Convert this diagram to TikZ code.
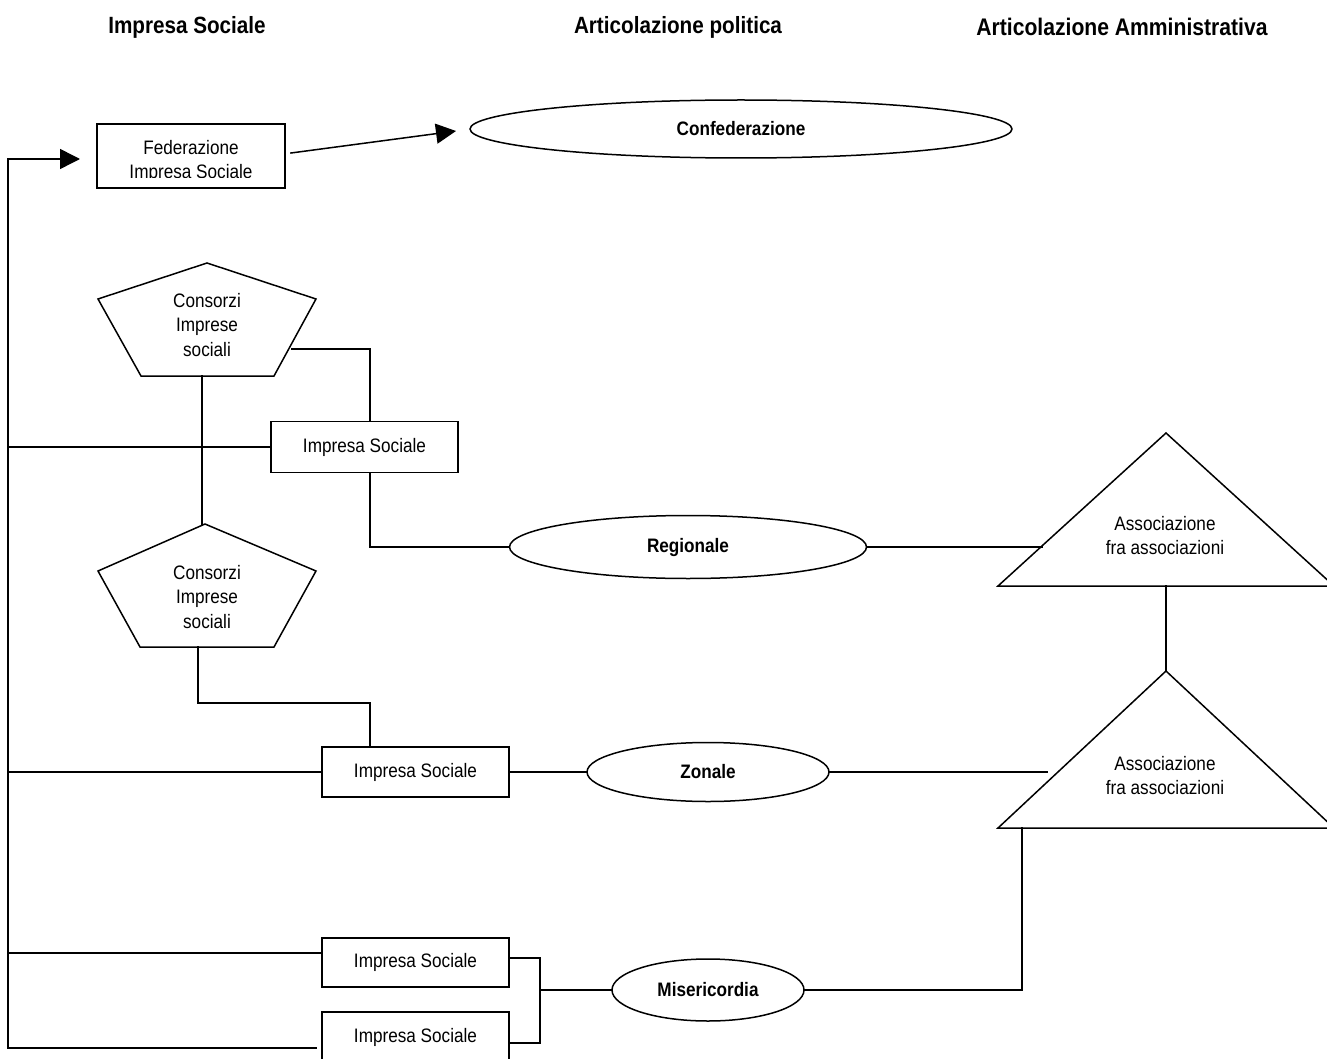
\documentclass[tikz,border=0pt]{standalone}
\usepackage{fontspec}
\setmainfont{Liberation Sans}[FakeStretch=0.88]
\usetikzlibrary{shapes.geometric,arrows.meta}
\tikzset{
  ln/.style={line width=1.5pt, line cap=rect},
  box/.style={draw, line width=1.5pt, rectangle, minimum width=187pt, minimum height=50pt, inner sep=0pt, font=\fontsize{19.5}{24}\selectfont},
  ell/.style={draw, line width=1.5pt, ellipse, inner sep=0pt, font=\bfseries\fontsize{19.5}{24}\selectfont},
  lbl/.style={align=center, inner sep=0pt, font=\fontsize{19.5}{24.5}\selectfont},
  head/.style={inner sep=0pt, font=\bfseries\fontsize{23.5}{28}\selectfont},
  shp/.style={draw, line width=1.5pt, line join=miter},
  arr/.style={ln, -{Triangle[length=20pt,width=20pt]}}
}
\begin{document}
\begin{tikzpicture}[x=1pt,y=-1pt]
\useasboundingbox (0,0) rectangle (1327,1059);
\clip (0,0) rectangle (1327,1059);
\fill[white] (0,0) rectangle (1327,1059);

% headers
\node[head] (h1) at (187,27) {Impresa Sociale};
\node[head] (h2) at (678,27) {Articolazione politica};
\node[head, font=\bfseries\fontsize{24}{28}\selectfont] (h3) at (1122,27) {Articolazione Amministrativa};

% Federazione box with clipped text
\node[box, minimum width=188pt, minimum height=64pt] (fed) at (191,156) {};
\begin{scope}
  \clip (97,124) rectangle (285,178);
  \node[lbl, font=\fontsize{19.5}{24}\selectfont] (fedt) at (191,161) {Federazione\\Impresa Sociale};
\end{scope}

% ellipses
\node[ell, minimum width=542pt, minimum height=58pt] (conf) at (741,129) {Confederazione};
\node[ell, minimum width=357pt, minimum height=63pt] (reg) at (688,547) {Regionale};
\node[ell, minimum width=242pt, minimum height=59pt] (zon) at (708,772) {Zonale};
\node[ell, minimum width=192pt, minimum height=62pt] (mis) at (708,990) {Misericordia};

% boxes
\node[box, minimum height=51pt] (imp1) at (364.5,447) {Impresa Sociale};
\node[box] (imp2) at (415.5,772) {Impresa Sociale};
\node[box, minimum height=49pt] (imp3) at (415.5,962.5) {Impresa Sociale};
\node[box] (imp4) at (415.5,1037) {Impresa Sociale};

% pentagons
\coordinate (p1a) at (207,263);
\coordinate (p1l) at (98,299);
\coordinate (p1r) at (316,299);
\coordinate (p1br) at (274,376);
\coordinate (p1bl) at (141,376);
\draw[shp] (p1a) -- (p1r) -- (p1br) -- (p1bl) -- (p1l) -- cycle;
\node[lbl] (p1t) at (207,325) {Consorzi\\Imprese\\sociali};

\coordinate (p2a) at (205,524);
\coordinate (p2l) at (98,571);
\coordinate (p2r) at (316,571);
\coordinate (p2br) at (274,647);
\coordinate (p2bl) at (140,647);
\draw[shp] (p2a) -- (p2r) -- (p2br) -- (p2bl) -- (p2l) -- cycle;
\node[lbl] (p2t) at (207,597) {Consorzi\\Imprese\\sociali};

% triangles
\coordinate (t1a) at (1166,433);
\coordinate (t1l) at (998,586);
\coordinate (t1r) at (1334,586);
\draw[shp] (t1a) -- (t1r) -- (t1l) -- cycle;
\node[lbl] (t1t) at (1165,535.5) {Associazione\\fra associazioni};

\coordinate (t2a) at (1166,671);
\coordinate (t2l) at (998,828);
\coordinate (t2r) at (1334,828);
\draw[shp] (t2a) -- (t2r) -- (t2l) -- cycle;
\node[lbl] (t2t) at (1165,775.5) {Associazione\\fra associazioni};

% connector anchor coordinates
\coordinate (busTop) at (8,159);
\coordinate (busBot) at (8,1048);
\coordinate (arrTip) at (80,159);
\coordinate (fedOut) at (291,153);
\coordinate (confIn) at (456,131);
\coordinate (p1bot) at (202,376);
\coordinate (p2top) at (202,524);
\coordinate (p1side) at (292,349);
\coordinate (p2bot) at (198,647);
\coordinate (p2turn) at (198,703);
\coordinate (t1edge) at (1042,547);
\coordinate (t1base) at (1166,586);
\coordinate (zonEnd) at (1047,772);
\coordinate (t2base) at (1022,828);
\coordinate (imp4end) at (316,1048);
\coordinate (brk) at (540,990);

% left bus and arrow
\draw[arr] (busBot) -- (busTop) -- (arrTip);
\draw[arr] (fedOut) -- (confIn);
\draw[ln] (busTop |- imp1.west) -- (imp1.west);
\draw[ln] (busTop |- imp2.west) -- (imp2.west);
\draw[ln] (8,953) -- (imp3.west |- 0,953);
\draw[ln] (busBot) -- (imp4end);

% pentagon links
\draw[ln] (p1bot) -- (p2top);
\draw[ln] (p1side) -| ([xshift=5.5pt]imp1.north);
\draw[ln] ([xshift=5.5pt]imp1.south) |- (reg.west);
\draw[ln] (p2bot) -- (p2turn) -| ([xshift=-45.5pt]imp2.north);

% political to administrative
\draw[ln] (reg.east) -- (t1edge);
\draw[ln] (t1base) -- (t2a);
\draw[ln] (imp2.east) -- (zon.west);
\draw[ln] (zon.east) -- (zonEnd);
\draw[ln] (t2base) |- (mis.east);

% misericordia bracket
\draw[ln] ([yshift=4.5pt]imp3.east) -| (brk) |- ([yshift=-6pt]imp4.east);
\draw[ln] (brk) -- (mis.west);
\end{tikzpicture}
\end{document}
